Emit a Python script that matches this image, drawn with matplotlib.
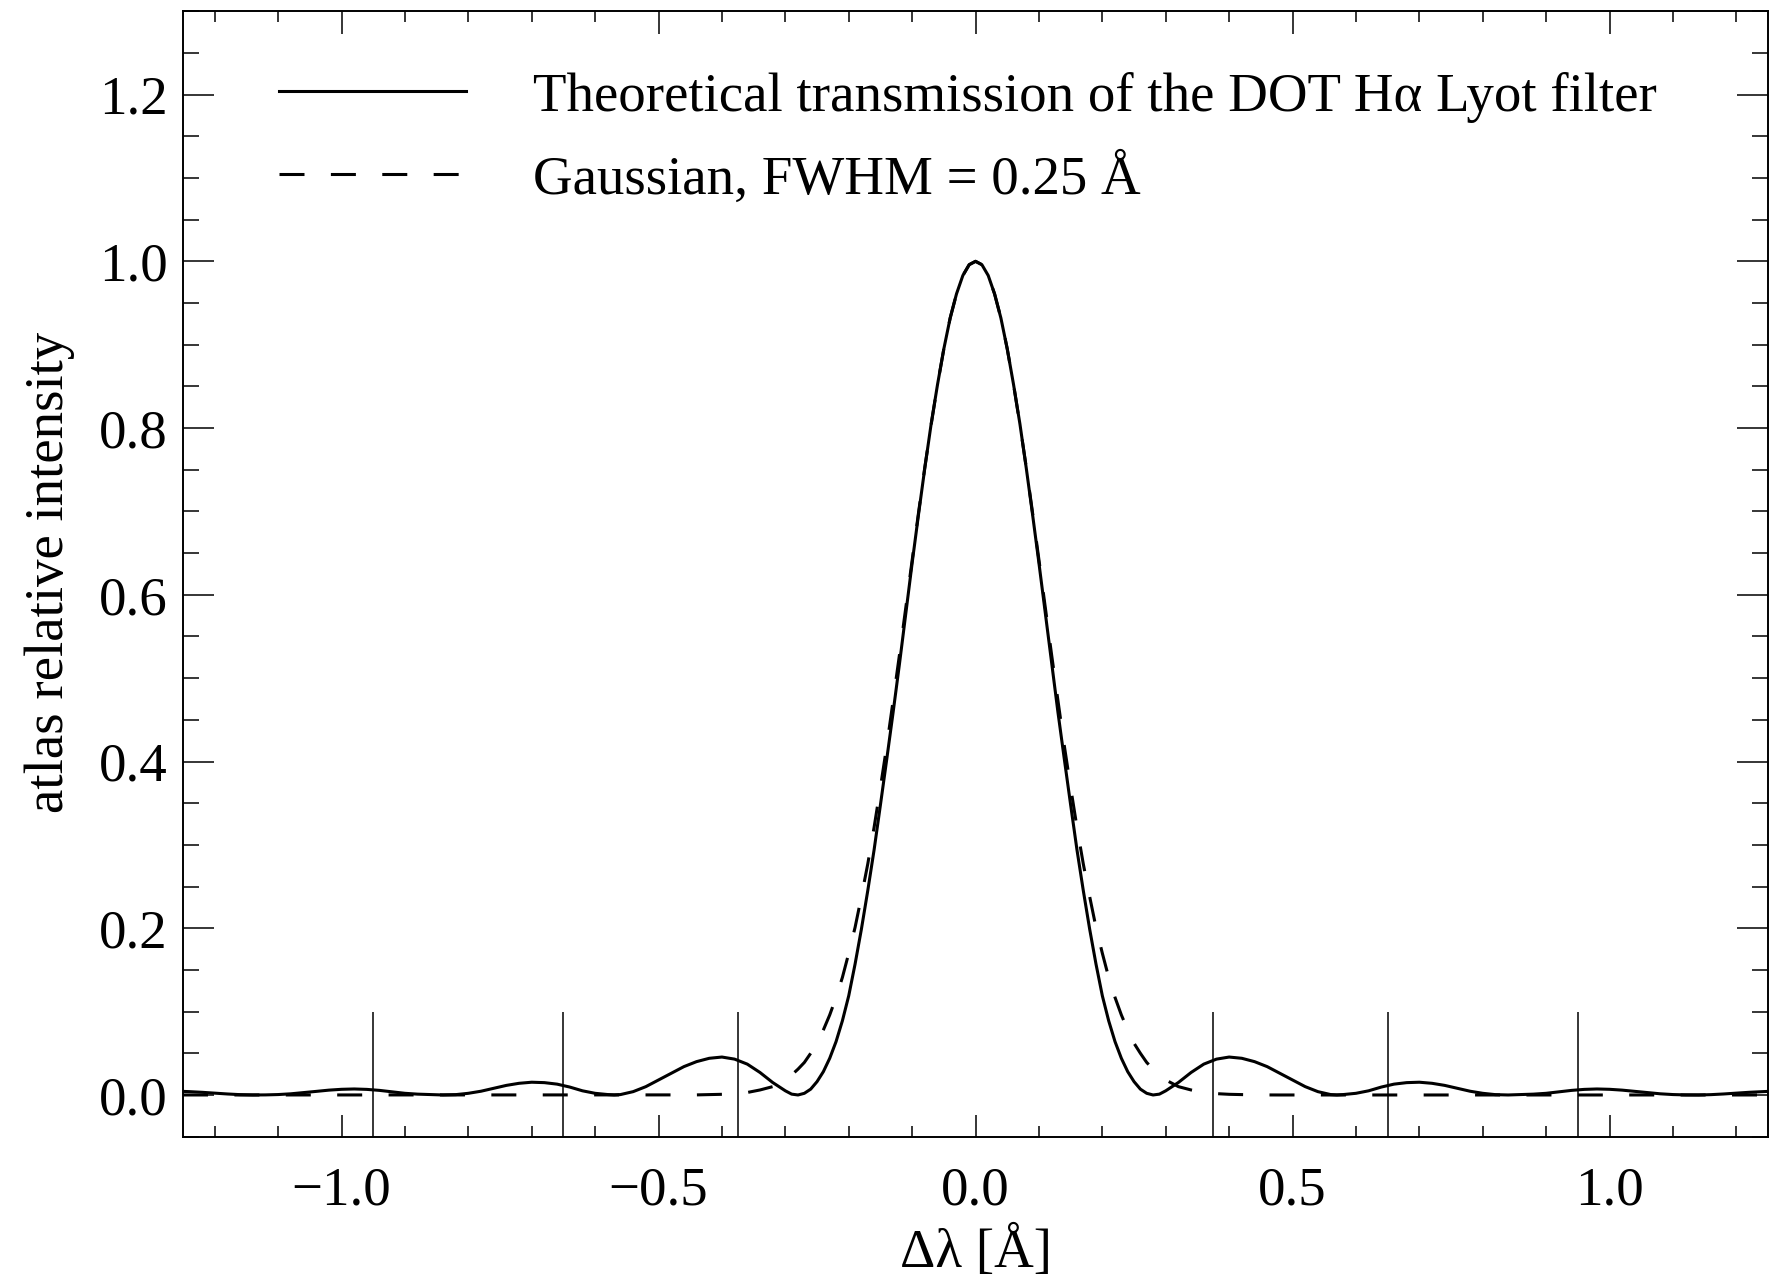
import numpy as np
import matplotlib
matplotlib.use("Agg")
import matplotlib.pyplot as plt
from matplotlib.ticker import MultipleLocator

# ----------------------------
# Data (x >= 0 half, curves are symmetric about 0)
# ----------------------------
dl_half = [0.00, 0.01, 0.02, 0.03, 0.04, 0.05, 0.06, 0.07, 0.08, 0.09,
           0.10, 0.11, 0.12, 0.13, 0.14, 0.15, 0.16, 0.17, 0.18, 0.19,
           0.20, 0.21, 0.22, 0.23, 0.24, 0.25, 0.26, 0.27, 0.28, 0.29,
           0.30, 0.32, 0.34, 0.36, 0.38, 0.40, 0.42, 0.44, 0.46, 0.48,
           0.50, 0.52, 0.54, 0.56, 0.57, 0.58, 0.60, 0.62, 0.64, 0.66,
           0.68, 0.70, 0.72, 0.74, 0.76, 0.78, 0.80, 0.82, 0.84, 0.86,
           0.88, 0.90, 0.92, 0.94, 0.96, 0.98, 1.00, 1.02, 1.04, 1.06,
           1.08, 1.10, 1.12, 1.14, 1.16, 1.18, 1.20, 1.22, 1.24, 1.25]

lyot_half = [1.000, 0.996, 0.983, 0.961, 0.932, 0.895, 0.852, 0.805, 0.752, 0.696,
             0.638, 0.578, 0.517, 0.459, 0.403, 0.348, 0.294, 0.245, 0.199, 0.157,
             0.119, 0.089, 0.064, 0.044, 0.028, 0.016, 0.007, 0.002, 0.000, 0.001,
             0.005, 0.015, 0.027, 0.037, 0.043, 0.0455, 0.044, 0.040, 0.034, 0.026,
             0.018, 0.010, 0.004, 0.0005, 0.000, 0.0005, 0.002, 0.005, 0.0095, 0.013,
             0.0148, 0.0153, 0.014, 0.0115, 0.008, 0.0045, 0.002, 0.0004, 0.000, 0.0005,
             0.001, 0.002, 0.0037, 0.0055, 0.0067, 0.0072, 0.0068, 0.0058, 0.0043, 0.0028,
             0.0014, 0.0005, 0.0001, 0.0000, 0.0004, 0.0012, 0.0022, 0.0032, 0.0040, 0.0043]

gauss_half = [1.000, 0.996, 0.983, 0.961, 0.932, 0.895, 0.852, 0.804, 0.753, 0.698,
              0.642, 0.585, 0.528, 0.473, 0.419, 0.369, 0.321, 0.277, 0.238, 0.201,
              0.170, 0.141, 0.117, 0.096, 0.078, 0.062, 0.050, 0.039, 0.031, 0.024,
              0.018, 0.010, 0.006, 0.003, 0.0016, 0.0008, 0.0004, 0.0001, 0.0, 0.0,
              0.0, 0.0, 0.0, 0.0, 0.0, 0.0, 0.0, 0.0, 0.0, 0.0,
              0.0, 0.0, 0.0, 0.0, 0.0, 0.0, 0.0, 0.0, 0.0, 0.0,
              0.0, 0.0, 0.0, 0.0, 0.0, 0.0, 0.0, 0.0, 0.0, 0.0,
              0.0, 0.0, 0.0, 0.0, 0.0, 0.0, 0.0, 0.0, 0.0, 0.0]

# short vertical markers near the baseline
marker_pos = [-0.95, -0.65, -0.375, 0.375, 0.65, 0.95]

labels = ["Theoretical transmission of the DOT H\u03b1 Lyot filter",
          "Gaussian, FWHM = 0.25 \u00c5"]

# mirror the halves
dl_half = np.array(dl_half)
dl = np.concatenate([-dl_half[:0:-1], dl_half])
lyot = np.concatenate([np.array(lyot_half)[:0:-1], lyot_half])
gauss = np.concatenate([np.array(gauss_half)[:0:-1], gauss_half])

# ----------------------------
# Style
# ----------------------------
plt.rcParams.update({
    "font.family": ["Liberation Serif", "DejaVu Serif"],
    "font.size": 39.5,
    "axes.linewidth": 1.4,
    "lines.scale_dashes": False,
})

fig = plt.figure(figsize=(17.7, 12.77), dpi=100)
ax = fig.add_axes([0.1034, 0.1099, 0.8955, 0.8813])

ax.plot(dl, lyot, color="black", lw=2.2, label=labels[0])
ax.plot(dl, gauss, color="black", lw=2.2, linestyle=(0, (18, 19)), label=labels[1])
ax.vlines(marker_pos, -0.05, 0.1, color="black", lw=1.1)

ax.set_xlim(-1.25, 1.25)
ax.set_ylim(-0.05, 1.3)

ax.xaxis.set_major_locator(MultipleLocator(0.5))
ax.xaxis.set_minor_locator(MultipleLocator(0.1))
ax.yaxis.set_major_locator(MultipleLocator(0.2))
ax.yaxis.set_minor_locator(MultipleLocator(0.05))
ax.xaxis.set_major_formatter(lambda v, p: f"{v:.1f}".replace("-", "\u2212"))
ax.yaxis.set_major_formatter(lambda v, p: f"{v:.1f}")

ax.tick_params(axis="both", which="both", direction="in", top=True, right=True, width=1.1)
ax.tick_params(axis="x", which="major", length=16.2, pad=21)
ax.tick_params(axis="x", which="minor", length=8.1)
ax.tick_params(axis="y", which="major", length=22, pad=11)
ax.tick_params(axis="y", which="minor", length=11.3)

ax.set_xlabel("\u0394\u03bb [\u00c5]")
ax.set_ylabel("atlas relative intensity")
ax.xaxis.set_label_coords(0.5, -0.080)
ax.yaxis.set_label_coords(-0.068, 0.501)

leg = ax.legend(loc="center left", bbox_to_anchor=(0.0604, 0.8869),
                frameon=False, handlelength=3.41, handletextpad=1.22,
                labelspacing=0.54, borderpad=0, borderaxespad=0)

fig.savefig("out.png", dpi=100)
